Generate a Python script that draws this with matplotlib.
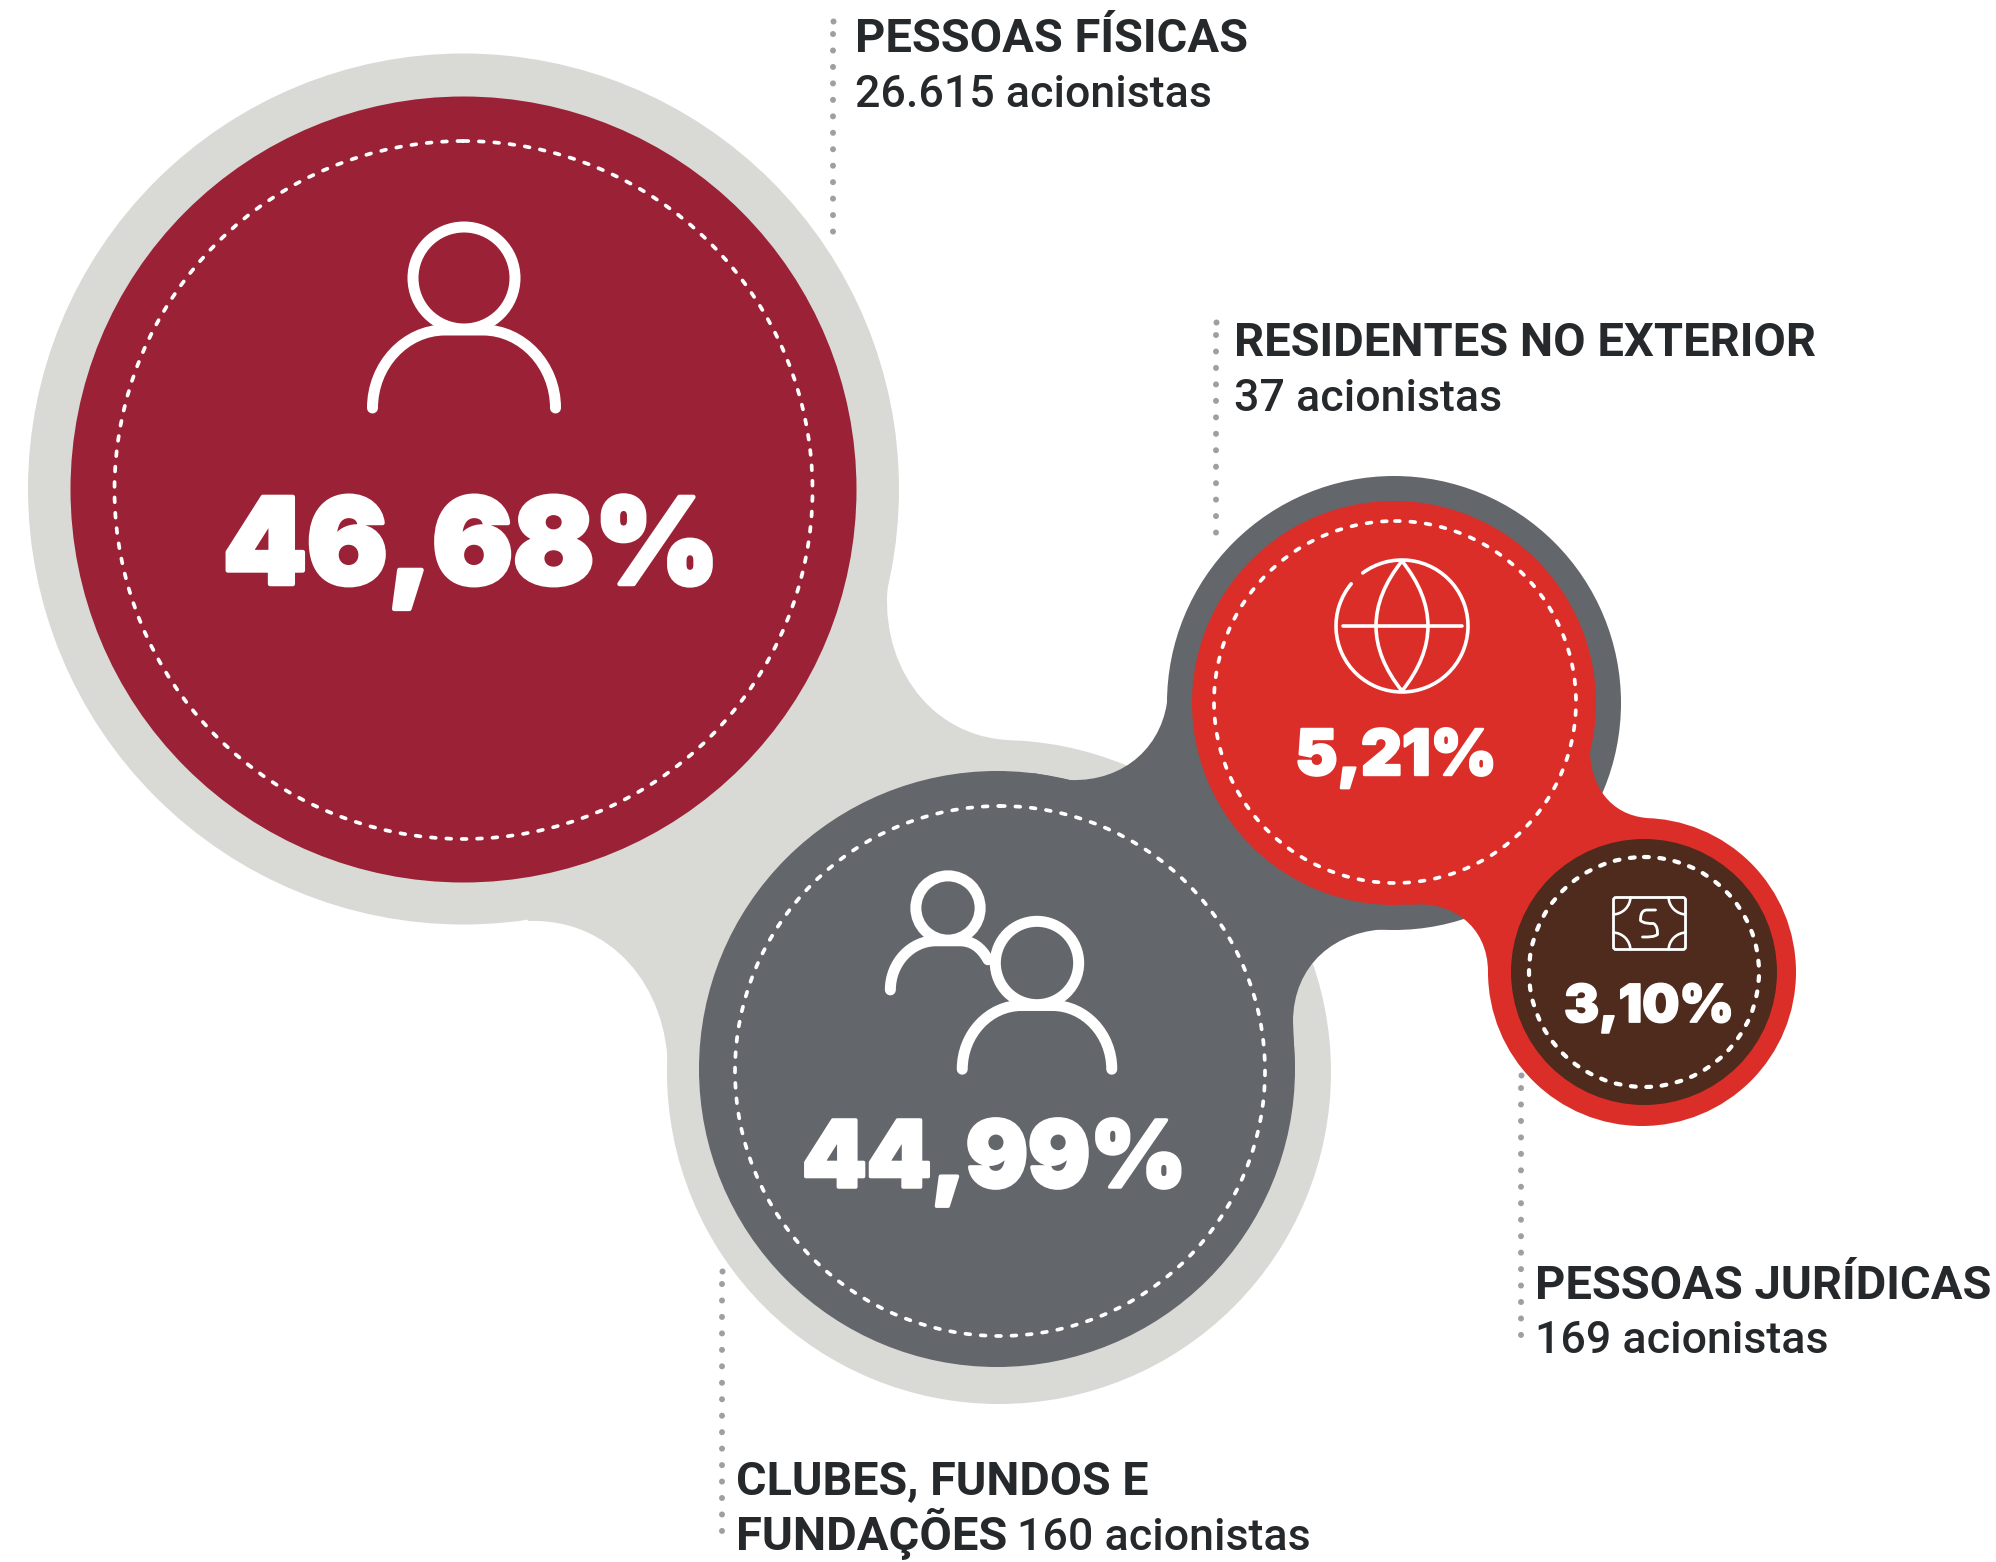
import matplotlib
matplotlib.use("Agg")
import matplotlib.pyplot as plt
import matplotlib.patheffects as pe
from matplotlib.patches import Circle, Arc, PathPatch, FancyBboxPatch
from matplotlib.path import Path

# chart values
percent_labels = ["46,68%", "44,99%", "5,21%", "3,10%"]
group_titles = ["PESSOAS FÍSICAS", "RESIDENTES NO EXTERIOR", "PESSOAS JURÍDICAS"]
group_counts = ["26.615 acionistas", "37 acionistas", "169 acionistas"]
clubes_lines = ["CLUBES, FUNDOS E", "FUNDAÇÕES"]
clubes_count = "160 acionistas"

CRIMSON = "#9b2236"
RED = "#db2e29"
DARK = "#63666a"
LIGHT = "#d9dad6"
BROWN = "#4f2b1e"
TEXT = "#26292c"
DOTS = "#9d9fa2"
WHITE = "#ffffff"
PT = 0.72  # px to pt at dpi 100

plt.rcParams["font.family"] = ["Roboto", "DejaVu Sans"]

fig = plt.figure(figsize=(19.96, 15.62), dpi=100, facecolor="white")
ax = fig.add_axes([0, 0, 1, 1])
ax.set_xlim(0, 1996)
ax.set_ylim(1562, 0)
ax.axis("off")

M, L, C3, C4 = Path.MOVETO, Path.LINETO, Path.CURVE3, Path.CURVE4


def blob(verts, codes, color, z):
    ax.add_patch(PathPatch(Path(verts, codes), fc=color, ec="none", lw=0, zorder=z))


def disc(x, y, r, color, z):
    ax.add_patch(Circle((x, y), r, fc=color, ec="none", lw=0, zorder=z))


def dashed_ring(x, y, r, width=3.7, z=6):
    ax.add_patch(Circle((x, y), r, fc="none", ec=WHITE, lw=width * PT, capstyle="round",
                        linestyle=(0, (4.8 / width, 10.6 / width)), zorder=z))


def stroke(verts, codes, width, z=7):
    ax.add_patch(PathPatch(Path(verts, codes), fc="none", ec=WHITE, lw=width * PT,
                           capstyle="round", joinstyle="round", zorder=z))


def person(cx, cy, s, cut=False, width=11):
    # head + shoulders icon, s=1 is the big one
    r = 51 * s
    ax.add_patch(Circle((cx, cy), r, fc="none", ec=WHITE, lw=width * PT, zorder=7))
    hw = 91.5 * s
    top = cy + 52 * s
    bot = cy + 130 * s
    flat = 19 * s
    left = [(cx - hw, bot), (cx - hw, bot - 43 * s), (cx - hw + 33 * s, top), (cx - flat, top), (cx + flat, top)]
    lcodes = [M, C4, C4, C4, L]
    if cut:
        verts = left + [(cx + 18 * s + 12, top), (cx + 33, top + 6), (cx + 40, top + 19)]
        stroke(verts, lcodes + [C4, C4, C4], width)
    else:
        verts = left + [(cx + hw - 33 * s, top), (cx + hw, bot - 43 * s), (cx + hw, bot)]
        stroke(verts, lcodes + [C4, C4, C4], width)


def dotted(x, y0, y1):
    # first gap is shorter than the others in the original
    ax.plot([x], [y0], "o", color=DOTS, ms=6 * PT, mew=0, zorder=3)
    ax.plot([x, x], [y0 + 12.8, y1 + 2], color=DOTS, lw=6 * PT, linestyle=(0, (0.01, 16.4 / 6)),
            dash_capstyle="round", zorder=3)


# light grey shape
disc(463.5, 489, 435.5, LIGHT, 1)
disc(999, 1072, 332, LIGHT, 1)
blob([(889, 575), (876, 660), (927, 735), (1007, 740), (999, 1072), (668, 1072),
      (668, 985), (610, 918), (528, 921), (463, 489), (889, 575)],
     [M, C4, C4, C4, L, L, C4, C4, C4, L, Path.CLOSEPOLY], LIGHT, 1)

# dark grey shape
disc(997, 1069, 298, DARK, 2)
disc(1394, 703, 227, DARK, 2)
blob([(1033, 773), (1070, 780), (1125, 782), (1165, 745), (1168, 693), (1394, 703), (1392, 929),
      (1335, 929), (1293, 965), (1293, 1022), (1295, 1069), (997, 1069), (1033, 773)],
     [M, L, C4, C4, C4, L, L, C4, C4, C4, L, L, Path.CLOSEPOLY], DARK, 2)

# red shape
disc(1394, 703, 202, RED, 3)
disc(1642, 972, 154, RED, 3)
blob([(1590, 750), (1590, 785), (1610, 815), (1647, 818), (1642, 972), (1488, 972),
      (1488, 925), (1450, 900), (1410, 905), (1394, 703), (1590, 750)],
     [M, C4, C4, C4, L, L, C4, C4, C4, L, Path.CLOSEPOLY], RED, 3)

# inner discs
disc(463.5, 489.5, 393, CRIMSON, 4)
disc(1644, 972, 133, BROWN, 4)

dashed_ring(463.5, 490, 349)
dashed_ring(1000, 1071, 265)
dashed_ring(1395, 702, 181)
dashed_ring(1644, 972, 115, width=4.2)

# icons
person(464, 278, 1.0)
person(948, 908, 0.63, cut=True)
person(1037, 963, 0.817)

# globe
gx, gy, gr = 1402, 626, 66
ax.add_patch(Arc((gx, gy), 2 * gr, 2 * gr, theta1=-126.5, theta2=219.7, ec=WHITE, lw=3.6 * PT,
                 capstyle="round", zorder=7))
stroke([(gx - 59, gy), (gx + 60, gy)], [M, L], 3.6)
stroke([(gx, gy - 65), (gx - 52, gy), (gx, gy + 65)], [M, C3, C3], 3.6)
stroke([(gx, gy - 65), (gx + 52, gy), (gx, gy + 65)], [M, C3, C3], 3.6)

# banknote
ax.add_patch(FancyBboxPatch((1613.5, 897.5), 72, 52, boxstyle="round,pad=0,rounding_size=2.5", fc="none",
                            ec=WHITE, lw=2.8 * PT, zorder=7))
for cx, cy, t1 in [(1612.5, 896.5, 0), (1686.5, 896.5, 90), (1686.5, 950.5, 180), (1612.5, 950.5, 270)]:
    ax.add_patch(Arc((cx, cy), 36, 36, theta1=t1, theta2=t1 + 90, ec=WHITE, lw=2.6 * PT, zorder=7))
stroke([(1655.5, 910), (1647, 910), (1641, 910), (1640.5, 916.5), (1640.5, 920.5), (1644, 923.5), (1648.5, 923.5),
        (1653.5, 923.5), (1657.5, 926), (1657.5, 930.5), (1657.5, 934.5), (1654, 937), (1650, 937), (1642.5, 937)],
       [M, L, C4, C4, C4, C4, C4, C4, C4, C4, C4, C4, C4, L], 2.8)

# percent figures
pct_x = [471, 994, 1396, 1649]
pct_y = [584, 1187, 775, 1022]
pct_size = [87, 67, 46, 38]
fat = [4.5, 3.5, 2.4, 1.8]
for lab, x, y, h, f in zip(percent_labels, pct_x, pct_y, pct_size, fat):
    t = ax.text(x, y, lab, ha="center", va="baseline", color=WHITE, family=["Inter", "DejaVu Sans"],
                weight=900, fontsize=h / 0.727 * PT, zorder=8)
    t.set_path_effects([pe.withStroke(linewidth=f * PT, foreground=WHITE)])

# labels
label_x = [855, 1234, 1535.5]
title_y = [52, 356, 1299]
count_y = [107, 411, 1353]
FS = 33.9
FS_COUNT = 32.2
for name, count, x, y1, y2 in zip(group_titles, group_counts, label_x, title_y, count_y):
    ax.text(x, y1, name, ha="left", va="baseline", color=TEXT, weight="bold", fontsize=FS, zorder=5)
    ax.text(x, y2, count, ha="left", va="baseline", color=TEXT, weight=500, fontsize=FS_COUNT, zorder=5)

ax.text(736, 1494, clubes_lines[0], ha="left", va="baseline", color=TEXT, weight="bold", fontsize=FS - 0.3, zorder=5)
ax.text(736, 1550, clubes_lines[1], ha="left", va="baseline", color=TEXT, weight="bold", fontsize=FS, zorder=5)
ax.text(1017, 1550, clubes_count, ha="left", va="baseline", color=TEXT, weight=500, fontsize=FS_COUNT, zorder=5)

# dotted leader lines
dotted(833, 21, 235)
dotted(1216, 322, 538)
dotted(1521, 1075, 1347)
dotted(722, 1271, 1545)

fig.savefig("out.png", dpi=100, facecolor="white")
